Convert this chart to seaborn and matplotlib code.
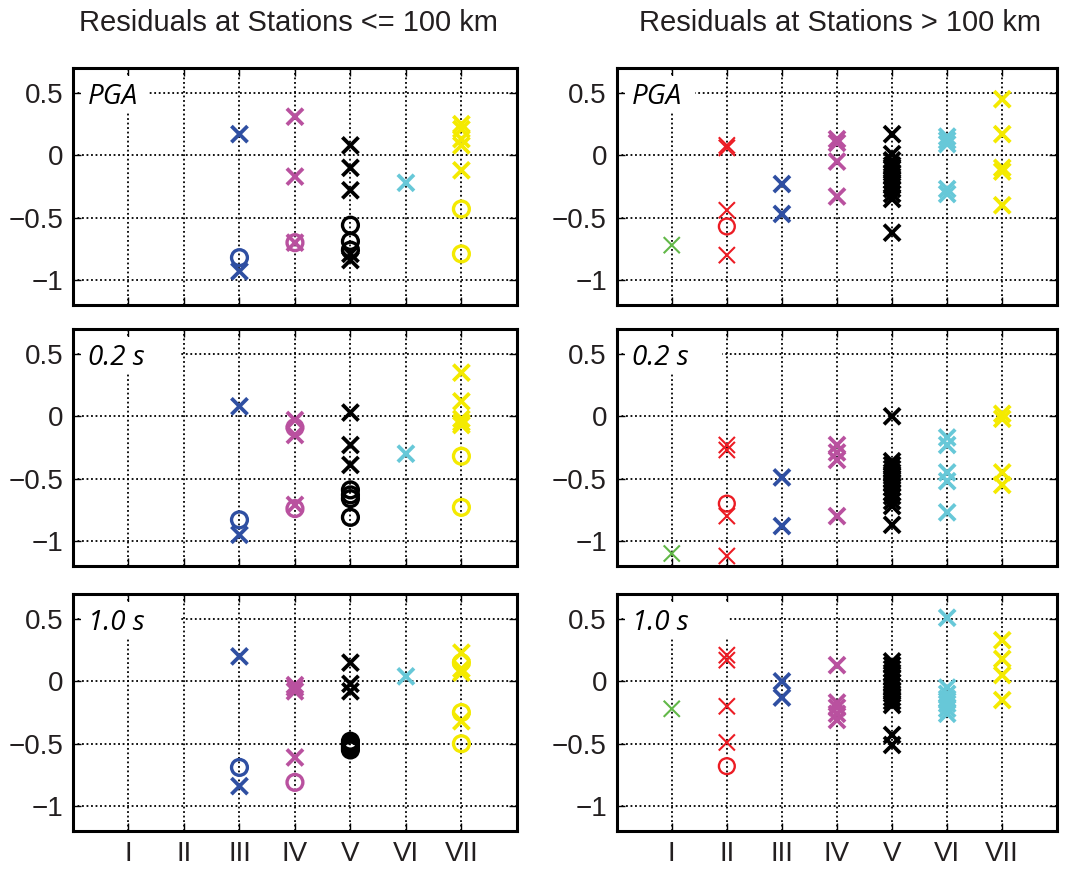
import matplotlib
matplotlib.use("Agg")
import matplotlib.pyplot as plt
from matplotlib.patches import Rectangle
import pandas as pd
import seaborn as sns

# ---- categories / labels ----
CLASSES = ['I', 'II', 'III', 'IV', 'V', 'VI', 'VII']
COLORS = {'I': '#62B848', 'II': '#EC1C24', 'III': '#2F4FA2', 'IV': '#B9519F',
          'V': '#000000', 'VI': '#67C8D8', 'VII': '#F4EA00'}
THIN = ['I', 'II']
Y_TICKS = [-1, -0.5, 0, 0.5]
Y_TICK_LABELS = ['\u22121', '\u22120.5', '0', '0.5']
COLUMN_TITLES = ['Residuals at Stations <= 100 km', 'Residuals at Stations > 100 km']
PERIOD_LABELS = ['PGA', '0.2 s', '1.0 s']

# ---- residuals, stations <= 100 km (x = cross, o = circle) ----
NEAR_PGA_X = {'III': [0.17, -0.93], 'IV': [0.31, -0.17, -0.70],
              'V': [0.08, -0.10, -0.28, -0.79, -0.84], 'VI': [-0.22],
              'VII': [0.25, 0.21, 0.13, 0.08, -0.12]}
NEAR_PGA_O = {'III': [-0.82], 'IV': [-0.70], 'V': [-0.56, -0.69, -0.76],
              'VII': [-0.43, -0.79]}
NEAR_02_X = {'III': [0.08, -0.95], 'IV': [-0.03, -0.15, -0.71],
             'V': [0.03, -0.23, -0.39], 'VI': [-0.30],
             'VII': [0.35, 0.12, -0.02, -0.05, -0.07]}
NEAR_02_O = {'III': [-0.83], 'IV': [-0.09, -0.74], 'V': [-0.59, -0.63, -0.66, -0.81],
             'VII': [-0.32, -0.73]}
NEAR_10_X = {'III': [0.20, -0.84], 'IV': [-0.03, -0.05, -0.08, -0.61],
             'V': [0.15, -0.02, -0.08], 'VI': [0.04],
             'VII': [0.23, 0.10, 0.07, -0.32]}
NEAR_10_O = {'III': [-0.69], 'IV': [-0.81], 'V': [-0.48, -0.50, -0.51, -0.53, -0.55],
             'VII': [0.15, -0.25, -0.50]}

# ---- residuals, stations > 100 km ----
FAR_PGA_X = {'I': [-0.72], 'II': [0.08, 0.06, -0.44, -0.80], 'III': [-0.23, -0.47],
             'IV': [0.13, 0.10, -0.05, -0.33],
             'V': [0.17, 0.01, -0.04, -0.08, -0.11, -0.14, -0.17, -0.20, -0.23,
                   -0.27, -0.31, -0.35, -0.62],
             'VI': [0.15, 0.12, 0.09, -0.27, -0.31],
             'VII': [0.45, 0.17, -0.10, -0.13, -0.40]}
FAR_PGA_O = {'II': [-0.57]}
FAR_02_X = {'I': [-1.10], 'II': [-0.23, -0.27, -0.80, -1.12], 'III': [-0.49, -0.88],
            'IV': [-0.23, -0.29, -0.35, -0.80],
            'V': [0.0, -0.36, -0.39, -0.42, -0.45, -0.48, -0.51, -0.54, -0.57,
                  -0.61, -0.64, -0.68, -0.72, -0.87],
            'VI': [-0.17, -0.23, -0.45, -0.52, -0.77],
            'VII': [0.02, -0.02, -0.45, -0.55]}
FAR_02_O = {'II': [-0.70]}
FAR_10_X = {'I': [-0.22], 'II': [0.21, 0.17, -0.20, -0.49], 'III': [0.0, -0.13],
            'IV': [0.13, -0.17, -0.21, -0.26, -0.31],
            'V': [0.16, 0.13, 0.10, 0.07, 0.03, -0.01, -0.04, -0.07, -0.10, -0.13,
                  -0.16, -0.19, -0.43, -0.51],
            'VI': [0.51, -0.05, -0.10, -0.14, -0.18, -0.22, -0.26],
            'VII': [0.33, 0.18, 0.05, -0.15]}
FAR_10_O = {'II': [-0.68]}

PANELS = [[(NEAR_PGA_X, NEAR_PGA_O), (FAR_PGA_X, FAR_PGA_O)],
          [(NEAR_02_X, NEAR_02_O), (FAR_02_X, FAR_02_O)],
          [(NEAR_10_X, NEAR_10_O), (FAR_10_X, FAR_10_O)]]

# ---- layout (figure fractions) ----
COL_LEFT = [0.0676, 0.571]
COL_WIDTH = [0.411, 0.408]
ROW_BOTTOM = [0.649, 0.3487, 0.0437]
ROW_HEIGHT = 0.2727
LABEL_BOX_RIGHT = [[0.168, 0.178], [0.243, 0.238], [0.243, 0.252]]
TEXT_COLOR = '#231F20'

plt.rcParams['font.family'] = ['Liberation Sans', 'DejaVu Sans']


def to_frame(d):
    rows = [(CLASSES.index(c) + 1, c, v) for c, vals in d.items() for v in vals]
    return pd.DataFrame(rows, columns=['pos', 'cls', 'res'])


def draw_panel(ax, crosses, circles, label, box_right, bottom_row):
    ax.set_axisbelow(True)
    ax.grid(True, color='black', linestyle=(0, (1, 1.5)), linewidth=1.3)

    # белая подложка под подписью периода
    ax.add_patch(Rectangle((0.018, 0.815), box_right - 0.018, 0.151,
                           transform=ax.transAxes, facecolor='white',
                           edgecolor='none', zorder=1.5))

    df_x = to_frame(crosses)
    sns.scatterplot(data=df_x, x='pos', y='res', hue='cls', palette=COLORS,
                    marker='x', s=135, linewidth=2.7, legend=False, ax=ax, zorder=3)
    ax.collections[-1].set_linewidths([1.5 if c in THIN else 2.7 for c in df_x['cls']])

    df_o = to_frame(circles)
    sns.scatterplot(data=df_o, x='pos', y='res', hue='cls', palette=COLORS,
                    marker='o', s=130, linewidth=2.3, legend=False, ax=ax, zorder=3)
    coll = ax.collections[-1]
    coll.set_edgecolors(coll.get_facecolors())
    coll.set_facecolors('none')
    coll.set_linewidths([1.7 if c in THIN else 2.4 for c in df_o['cls']])

    ax.text(0.034, 0.849, label, transform=ax.transAxes, fontsize=20,
            family='Open Sans', style='italic', va='baseline', color='black', zorder=4)

    ax.set_xlim(0, 8)
    ax.set_ylim(-1.2, 0.7)
    ax.set_xticks(range(1, len(CLASSES) + 1))
    ax.set_xticklabels(CLASSES if bottom_row else [])
    ax.set_yticks(Y_TICKS)
    ax.set_yticklabels(Y_TICK_LABELS)
    ax.set_xlabel('')
    ax.set_ylabel('')
    ax.tick_params(direction='in', length=6, width=1, top=True, right=True,
                   labelsize=20, pad=7, labelcolor=TEXT_COLOR)
    for sp in ax.spines.values():
        sp.set_linewidth(2.2)
        sp.set_color('black')
        sp.set_zorder(5)


fig = plt.figure(figsize=(10.8, 8.69), dpi=100)

for r in range(3):
    for c in range(2):
        ax = fig.add_axes([COL_LEFT[c], ROW_BOTTOM[r], COL_WIDTH[c], ROW_HEIGHT])
        crosses, circles = PANELS[r][c]
        draw_panel(ax, crosses, circles, PERIOD_LABELS[r], LABEL_BOX_RIGHT[r][c], r == 2)

fig.text(0.267, 0.974, COLUMN_TITLES[0], ha='center', va='center', fontsize=21,
         color=TEXT_COLOR)
fig.text(0.778, 0.974, COLUMN_TITLES[1], ha='center', va='center', fontsize=21,
         color=TEXT_COLOR)

fig.savefig('out.png', dpi=100)
